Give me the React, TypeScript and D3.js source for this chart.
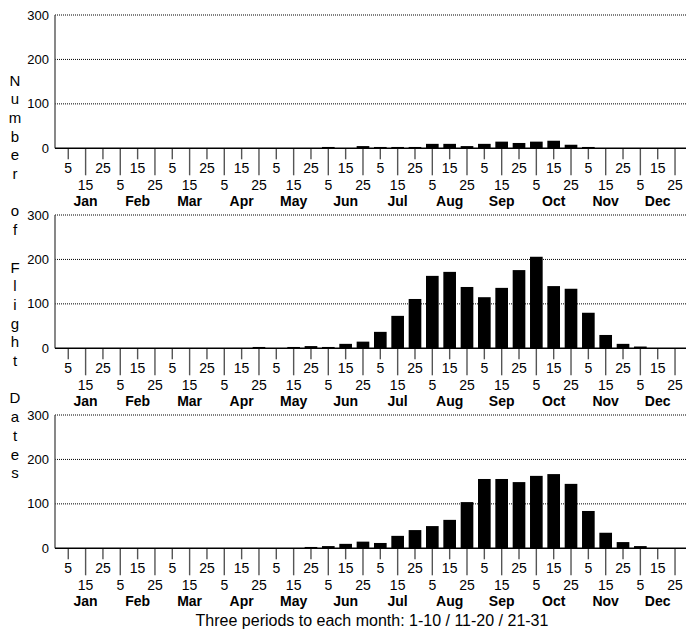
import React, { useEffect, useRef } from "react";
import * as d3 from "d3";

const months = ["Jan", "Feb", "Mar", "Apr", "May", "Jun", "Jul", "Aug", "Sep", "Oct", "Nov", "Dec"];
const periodLabels = ["5", "15", "25"];
const yTicks = [0, 100, 200, 300];
const yTitle = "Number of Flight Dates";
const caption = "Three periods to each month: 1-10 / 11-20 / 21-31";

// 36 ten-day periods, Jan 1-10 ... Dec 21-31
const topValues = [
  0, 0, 0, 0, 0, 0, 0, 0, 0, 0, 0, 0, 0, 0, 0, 3, 0, 5,
  3, 3, 3, 10, 10, 5, 10, 15, 12, 15, 17, 8, 3, 0, 0, 0, 0, 0,
];
const middleValues = [
  0, 0, 0, 0, 0, 0, 0, 0, 0, 0, 0, 3, 0, 3, 5, 3, 10, 15,
  37, 73, 111, 163, 172, 138, 115, 136, 176, 206, 140, 134, 80, 30, 10, 4, 0, 0,
];
const bottomValues = [
  0, 0, 0, 0, 0, 0, 0, 0, 0, 0, 0, 0, 0, 0, 3, 5, 10, 15,
  12, 28, 41, 50, 64, 104, 156, 156, 149, 163, 167, 145, 84, 35, 14, 5, 0, 0,
];

const panels = [topValues, middleValues, bottomValues];

const App = () => {
  const svgRef = useRef(null);
  const width = 686;
  const height = 629;
  const font = "'Liberation Sans', Arial, sans-serif";

  useEffect(() => {
    const svg = d3.select(svgRef.current);
    svg.selectAll("*").remove();

    const plotLeft = 55;
    const plotRight = 686;
    const panelBase = [148.3, 348.3, 548.3];
    const panelH = 133.3;

    const periods = d3.range(36);
    const x = d3
      .scaleBand()
      .domain(periods)
      .range([59.6, 683.7])
      .paddingInner(0.27)
      .paddingOuter(0.135);
    const cx = (i) => x(i) + x.bandwidth() / 2;

    panels.forEach((values, p) => {
      const y0 = panelBase[p];
      const y = d3.scaleLinear().domain([0, 300]).range([y0, y0 - panelH]);
      const g = svg.append("g");

      // dotted gridlines
      g.selectAll(".grid")
        .data(yTicks.filter((t) => t > 0))
        .enter()
        .append("line")
        .attr("x1", plotLeft)
        .attr("x2", plotRight)
        .attr("y1", (d) => y(d))
        .attr("y2", (d) => y(d))
        .attr("stroke", "#000")
        .attr("stroke-width", 1)
        .attr("stroke-dasharray", "1,1");

      // y tick labels
      g.selectAll(".ylab")
        .data(yTicks)
        .enter()
        .append("text")
        .attr("x", 49)
        .attr("y", (d) => y(d))
        .attr("dy", "0.35em")
        .attr("text-anchor", "end")
        .attr("font-family", font)
        .attr("font-size", 13)
        .text((d) => d);

      // bars
      g.selectAll(".bar")
        .data(values)
        .enter()
        .append("rect")
        .attr("x", (d, i) => x(i))
        .attr("y", (d) => y(d))
        .attr("width", x.bandwidth())
        .attr("height", (d) => y0 - y(d))
        .attr("fill", "#000");

      // y axis line
      g.append("line")
        .attr("x1", plotLeft)
        .attr("x2", plotLeft)
        .attr("y1", y(300))
        .attr("y2", y0)
        .attr("stroke", "#555")
        .attr("stroke-width", 1.4);

      // x ticks, alternating short / long
      g.selectAll(".xtick")
        .data(periods)
        .enter()
        .append("line")
        .attr("x1", (i) => cx(i))
        .attr("x2", (i) => cx(i))
        .attr("y1", y0)
        .attr("y2", (i) => (i % 2 === 0 ? y0 + 11 : y0 + 27))
        .attr("stroke", "#555")
        .attr("stroke-width", 1.4);

      // baseline
      g.append("line")
        .attr("x1", plotLeft)
        .attr("x2", plotRight)
        .attr("y1", y0)
        .attr("y2", y0)
        .attr("stroke", "#000")
        .attr("stroke-width", 1.4);

      // period labels
      g.selectAll(".xlab")
        .data(periods)
        .enter()
        .append("text")
        .attr("x", (i) => cx(i))
        .attr("y", (i) => (i % 2 === 0 ? y0 + 25 : y0 + 41.5))
        .attr("text-anchor", "middle")
        .attr("font-family", font)
        .attr("font-size", 14)
        .text((i) => periodLabels[i % 3]);

      // month labels
      g.selectAll(".month")
        .data(months)
        .enter()
        .append("text")
        .attr("x", (d, m) => cx(m * 3 + 1))
        .attr("y", y0 + 57.5)
        .attr("text-anchor", "middle")
        .attr("font-family", font)
        .attr("font-size", 14)
        .attr("font-weight", "bold")
        .text((d) => d);
    });

    // vertical stacked title
    svg
      .append("g")
      .selectAll("text")
      .data(yTitle.split(""))
      .enter()
      .append("text")
      .attr("x", 15)
      .attr("y", (d, k) => 85.5 + 18.7 * k)
      .attr("text-anchor", "middle")
      .attr("font-family", font)
      .attr("font-size", 15)
      .text((d) => d);

    svg
      .append("text")
      .attr("x", 372)
      .attr("y", 626)
      .attr("text-anchor", "middle")
      .attr("font-family", font)
      .attr("font-size", 16)
      .text(caption);
  }, []);

  return (
    <svg
      ref={svgRef}
      width={width}
      height={height}
      style={{ position: "absolute", left: 0, top: 0, background: "#fff" }}
    ></svg>
  );
};

export default App;
